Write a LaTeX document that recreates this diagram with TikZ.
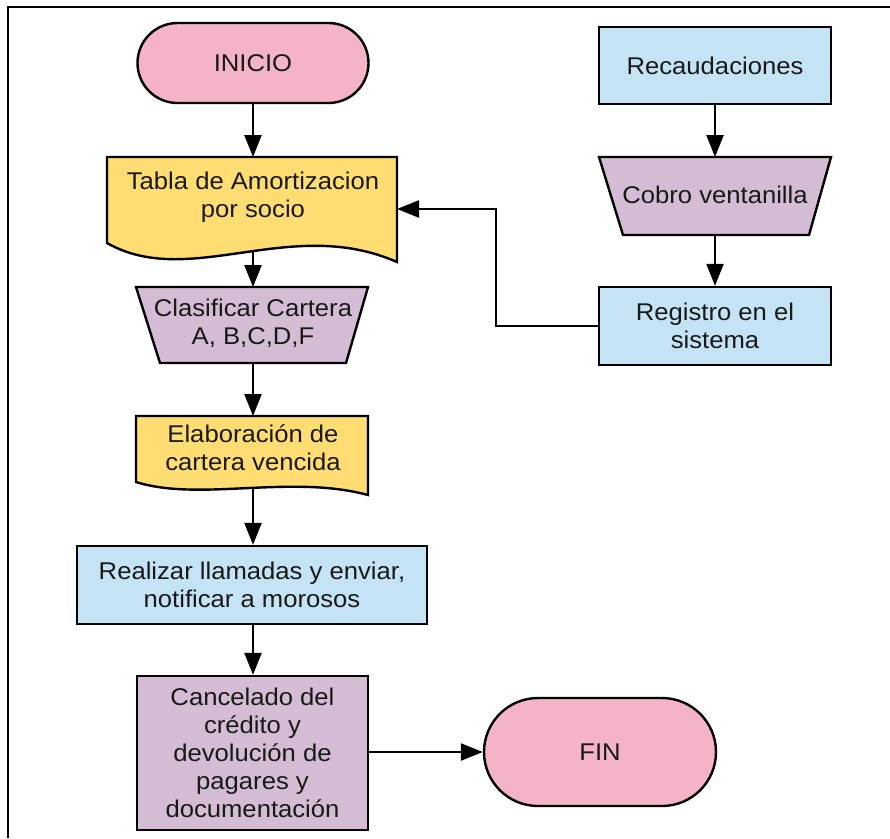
\documentclass[tikz,border=0pt]{standalone}
\usepackage{fontspec}
\setmainfont{Liberation Sans}[FakeStretch=1.06]
\usetikzlibrary{arrows.meta}
\definecolor{cpink}{HTML}{F4B3C7}
\definecolor{cyellow}{HTML}{FFDD73}
\definecolor{clav}{HTML}{D4BCD4}
\definecolor{cblue}{HTML}{C4E4F6}
\begin{document}
\begin{tikzpicture}[x=1pt,y=-1pt,
  txt/.style={font=\fontsize{24.2}{28}\selectfont, align=center, inner sep=0pt, text=black!90},
  box/.style={txt, draw=black, line width=2.4pt},
  shp/.style={draw=black, line width=2.4pt, line join=miter},
  conn/.style={draw=black, line width=2.4pt, -{Triangle[length=22pt,width=17pt]}}]
\useasboundingbox (0,0) rectangle (890,838);
% frame
\draw[line width=2pt] (890,7) -- (8,7) -- (8,838);
% terminals and boxes
\node[box, fill=cpink, rounded corners=40pt, minimum width=231pt, minimum height=80pt] (inicio) at (253,63) {INICIO};
\node[box, fill=cblue, minimum width=232pt, minimum height=77pt] (recaud) at (715,65.5) {Recaudaciones};
\node[box, fill=cblue, minimum width=232pt, minimum height=78pt] (registro) at (715,326) {Registro en el\\sistema};
\node[box, fill=cblue, minimum width=350pt, minimum height=78pt] (realizar) at (252,585) {Realizar llamadas y enviar,\\notificar a morosos};
\node[box, fill=clav, minimum width=231pt, minimum height=154pt] (cancel) at (252.5,753) {Cancelado del\\cr\'edito y\\devoluci\'on de\\pagares y\\documentaci\'on};
\node[box, fill=cpink, rounded corners=54pt, minimum width=232pt, minimum height=108pt] (fin) at (600,752) {FIN};
% document shape: Tabla
\filldraw[shp, fill=cyellow] (107,157) -- (397,157) -- (397,262) .. controls (290,215) and (190,290) .. (107,243) -- cycle;
\node[txt] (tabla) at (253,197) {Tabla de Amortizacion\\por socio};
\coordinate (tablaT) at (253,157);
\coordinate (tablaB) at (253,252);
\coordinate (tablaR) at (397,209);
% trapezoid: Clasificar
\filldraw[shp, fill=clav] (136,287) -- (368,287) -- (346,363) -- (160,363) -- cycle;
\node[txt] (clas) at (253,323) {Clasificar Cartera\\A, B,C,D,F};
\coordinate (clasT) at (253,287);
\coordinate (clasB) at (253,363);
% trapezoid: Cobro
\filldraw[shp, fill=clav] (599,157) -- (831,157) -- (809,235) -- (623,235) -- cycle;
\node[txt] (cobro) at (715,195) {Cobro ventanilla};
\coordinate (cobroT) at (715,157);
\coordinate (cobroB) at (715,235);
% document shape: Elaboracion
\filldraw[shp, fill=cyellow] (136,416) -- (368,416) -- (368,495) .. controls (290,474) and (200,502) .. (136,482) -- cycle;
\node[txt] (elab) at (253,448) {Elaboraci\'on de\\cartera vencida};
\coordinate (elabT) at (253,416);
\coordinate (elabB) at (253,488);
% connectors
\draw[conn] (inicio.south) -- (tablaT);
\draw[conn] (tablaB) -- (clasT);
\draw[conn] (clasB) -- (elabT);
\draw[conn] (elabB) -- (realizar.north -| elabB);
\draw[conn] (realizar.south -| elabB) -- (cancel.north -| elabB);
\draw[conn] (recaud.south) -- (cobroT);
\draw[conn] (cobroB) -- (registro.north);
\draw[conn] (registro.west) -- ++(-102,0) |- (tablaR);
\draw[conn] (cancel.east |- fin.west) -- (fin.west);
\end{tikzpicture}
\end{document}
